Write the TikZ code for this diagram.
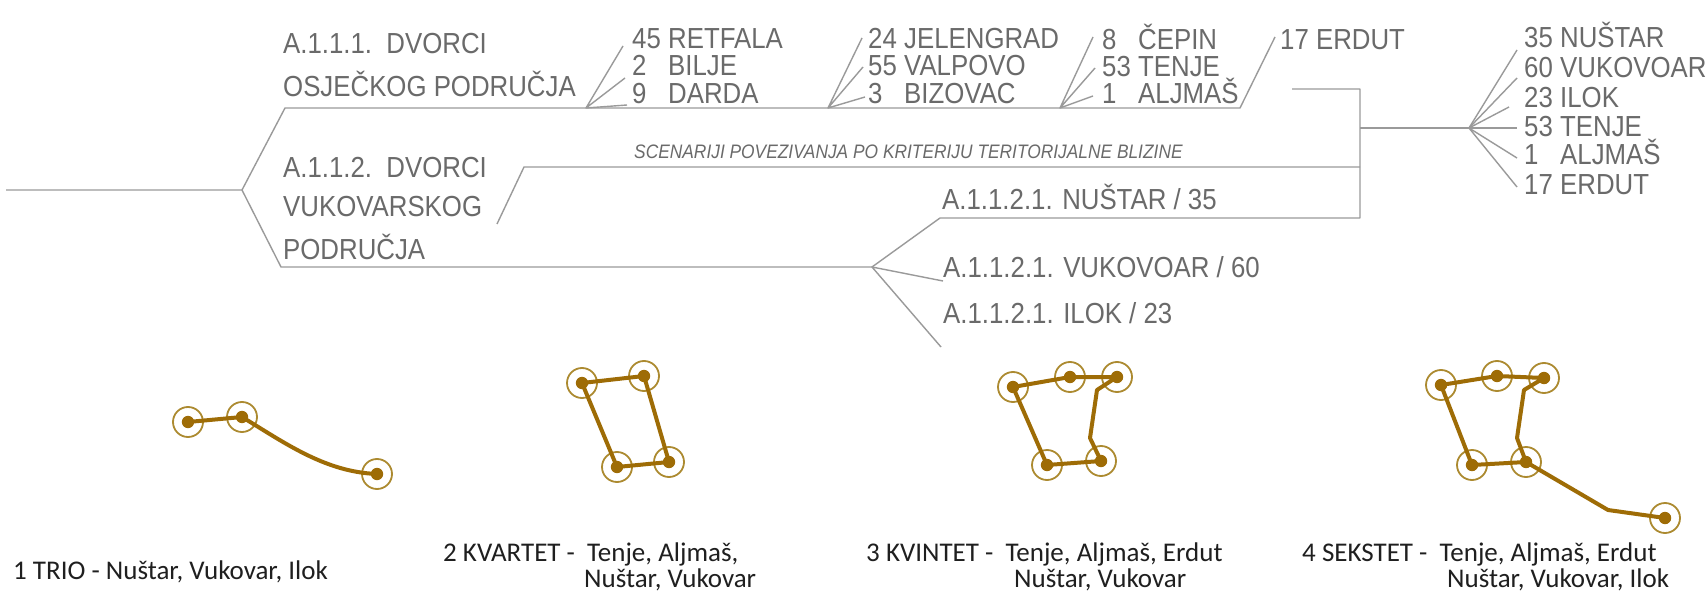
\documentclass[tikz,border=0pt]{standalone}
\usepackage{fontspec}
\newfontfamily\narrowsans[FakeStretch=0.89]{Liberation Sans}
\newfontfamily\calib{Carlito}
\definecolor{linegray}{HTML}{9A9A9A}
\definecolor{textgray}{HTML}{6A6A6A}
\definecolor{ringc}{HTML}{AC8A30}
\definecolor{linkc}{HTML}{9E6C06}
\newcommand\nb[1]{\makebox[36pt][l]{#1}}
\begin{document}
\begin{tikzpicture}[x=1pt,y=-1pt,
  treeline/.style={draw=linegray, line width=1.4pt, line join=round},
  lbl/.style={inner sep=0, anchor=base west, text=textgray, font=\narrowsans\fontsize{29}{29}\selectfont},
  scen/.style={inner sep=0, anchor=base west, text=textgray, font=\narrowsans\itshape\fontsize{19.5}{19.5}\selectfont},
  captxt/.style={inner sep=0, anchor=base west, text=black!88, font=\calib\fontsize{27}{27}\selectfont},
  site/.style={circle, draw=ringc, line width=1.8pt, minimum size=30pt, inner sep=0,
    path picture={\fill[linkc] (path picture bounding box.center) circle (6.2pt);}},
  link/.style={draw=linkc, line width=4pt, line cap=round, line join=round}]
\fill[white] (0,0) rectangle (1708,604);
\useasboundingbox (0,0) rectangle (1708,604);

% ---------- tree skeleton ----------
\coordinate (root) at (6,190);
\coordinate (fork) at (242,190);
\coordinate (up0) at (285,108);
\coordinate (upE) at (1240,108);
\coordinate (erdT) at (1275,37);
\coordinate (lo0) at (281,267);
\coordinate (loF) at (872,267);
\coordinate (midB) at (497,224);
\coordinate (mid0) at (524,167);
\coordinate (midE) at (1360,167);
\coordinate (brT0) at (1292,89);
\coordinate (brT) at (1360,89);
\coordinate (brB) at (1360,218);
\coordinate (nuL) at (940,218);
\coordinate (brM) at (1360,128);
\coordinate (rF) at (1469,128);

\draw[treeline] (root) -- (fork) -- (up0) -- (upE) -- (erdT);
\draw[treeline] (fork) -- (lo0) -- (loF);
\draw[treeline] (midB) -- (mid0) -- (midE);
\draw[treeline] (brT0) -- (brT) -- (brB) -- (nuL) -- (loF);
\draw[treeline] (brM) -- (rF);

% ---------- headings ----------
\node[lbl] (h1a) at (283,54) {A.1.1.1.\ \ DVORCI};
\node[lbl] (h1b) at (283,97) {OSJEČKOG PODRUČJA};
\node[lbl] (h2a) at (283,178) {A.1.1.2.\ \ DVORCI};
\node[lbl] (h2b) at (283,217) {VUKOVARSKOG};
\node[lbl] (h2c) at (283,259) {PODRUČJA};
\node[scen] (scen) at (634,159) {SCENARIJI POVEZIVANJA PO KRITERIJU TERITORIJALNE BLIZINE};

% ---------- group 1 ----------
\coordinate (f1) at (586,108);
\coordinate (f1a) at (623,46);
\coordinate (f1b) at (625,78);
\coordinate (f1c) at (627,105);
\draw[treeline] (f1a) -- (f1) -- (f1b) (f1) -- (f1c);
\node[lbl] (g1a) at (632,49) {\nb{45}RETFALA};
\node[lbl] (g1b) at (632,76) {\nb{2}BILJE};
\node[lbl] (g1c) at (632,104) {\nb{9}DARDA};

% ---------- group 2 ----------
\coordinate (f2) at (828,108);
\coordinate (f2a) at (862,38);
\coordinate (f2b) at (863,67);
\coordinate (f2c) at (865,97);
\draw[treeline] (f2a) -- (f2) -- (f2b) (f2) -- (f2c);
\node[lbl] (g2a) at (868,49) {\nb{24}JELENGRAD};
\node[lbl] (g2b) at (868,76) {\nb{55}VALPOVO};
\node[lbl] (g2c) at (868,104) {\nb{3}BIZOVAC};

% ---------- group 3 ----------
\coordinate (f3) at (1060,108);
\coordinate (f3a) at (1093,37);
\coordinate (f3b) at (1095,68);
\coordinate (f3c) at (1093,96);
\draw[treeline] (f3a) -- (f3) -- (f3b) (f3) -- (f3c);
\node[lbl] (g3a) at (1102,50) {\nb{8}ČEPIN};
\node[lbl] (g3b) at (1102,77) {\nb{53}TENJE};
\node[lbl] (g3c) at (1102,104) {\nb{1}ALJMAŠ};
\node[lbl] (erd) at (1280,50) {17 ERDUT};

% ---------- lower fan ----------
\coordinate (lvb) at (943,281);
\coordinate (lvc) at (941,347);
\draw[treeline] (lvb) -- (loF) -- (lvc);
\node[lbl] (nu) at (942,210) {A.1.1.2.1. NUŠTAR / 35};
\node[lbl] (vu) at (943,277) {A.1.1.2.1. VUKOVOAR / 60};
\node[lbl] (il) at (943,323) {A.1.1.2.1. ILOK / 23};

% ---------- right fan ----------
\coordinate (r1) at (1517,50);
\coordinate (r2) at (1517,78);
\coordinate (r3) at (1509,107);
\coordinate (r4) at (1517,128);
\coordinate (r5) at (1517,158);
\coordinate (r6) at (1517,187);
\foreach \e in {r1,r2,r3,r4,r5,r6} \draw[treeline] (rF) -- (\e);
\node[lbl] (ra) at (1524,48) {\nb{35}NUŠTAR};
\node[lbl] (rb) at (1524,78) {\nb{60}VUKOVOAR};
\node[lbl] (rc) at (1524,108) {\nb{23}ILOK};
\node[lbl] (rd) at (1524,137) {\nb{53}TENJE};
\node[lbl] (re) at (1524,165) {\nb{1}ALJMAŠ};
\node[lbl] (rf) at (1524,195) {\nb{17}ERDUT};

% ---------- networks ----------
% trio
\node[site] (t1) at (188,422) {};
\node[site] (t2) at (242,417) {};
\node[site] (t3) at (377,474) {};
\draw[link] (t1.center) -- (t2.center);
\draw[link] (t2.center) .. controls (285,443) and (325,472) .. (t3.center);
% kvartet
\node[site] (q1) at (582,383) {};
\node[site] (q2) at (644,376) {};
\node[site] (q3) at (617,467) {};
\node[site] (q4) at (669,462) {};
\draw[link] (q1.center) -- (q2.center) -- (q4.center) -- (q3.center) -- (q1.center);
% kvintet
\node[site] (k1) at (1013,387) {};
\node[site] (k2) at (1070,377) {};
\node[site] (k3) at (1117,377) {};
\node[site] (k4) at (1047,465) {};
\node[site] (k5) at (1101,461) {};
\coordinate (kb1) at (1097,390);
\coordinate (kb2) at (1090,438);
\draw[link] (k4.center) -- (k1.center) -- (k2.center) -- (k3.center) -- (kb1) -- (kb2) -- (k5.center) -- (k4.center);
% sekstet
\node[site] (s1) at (1441,385) {};
\node[site] (s2) at (1497,376) {};
\node[site] (s3) at (1544,378) {};
\node[site] (s4) at (1472,465) {};
\node[site] (s5) at (1526,462) {};
\node[site] (s6) at (1665,518) {};
\coordinate (sb1) at (1524,390);
\coordinate (sb2) at (1517,438);
\coordinate (sb3) at (1608,510);
\draw[link] (s4.center) -- (s1.center) -- (s2.center) -- (s3.center) -- (sb1) -- (sb2) -- (s5.center) -- (s4.center);
\draw[link] (s5.center) -- (sb3) -- (s6.center);

% ---------- captions ----------
\node[captxt] (c1) at (13,579) {1 TRIO - Nuštar, Vukovar, Ilok};
\node[captxt] (c2) at (443,561) {2 KVARTET -\ \ Tenje, Aljmaš,};
\node[captxt] (c2b) at (584,587) {Nuštar, Vukovar};
\node[captxt] (c3) at (866,561) {3 KVINTET -\ \ Tenje, Aljmaš, Erdut};
\node[captxt] (c3b) at (1014,587) {Nuštar, Vukovar};
\node[captxt] (c4) at (1302,561) {4 SEKSTET -\ \ Tenje, Aljmaš, Erdut};
\node[captxt] (c4b) at (1447,587) {Nuštar, Vukovar, Ilok};
\end{tikzpicture}
\end{document}
